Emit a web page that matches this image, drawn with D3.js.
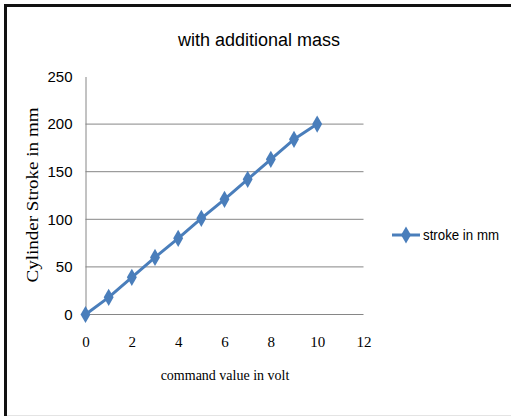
<!DOCTYPE html>
<html><head><meta charset="utf-8">
<script src="https://cdn.jsdelivr.net/npm/d3@7"></script>
<style>body{margin:0;background:#fff}svg{display:block}</style>
</head><body>
<svg id="c" width="511" height="416"></svg>
<script>
const voltage = [0,1,2,3,4,5,6,7,8,9,10];
const stroke = [0,18,39,60,80,101,121,142,163,184,200];
const xTicks = [0,2,4,6,8,10,12];
const yTicks = [0,50,100,150,200,250];
const gridTicks = [0,50,100,150,200];
const title = "with additional mass";
const xLabel = "command value in volt";
const yLabel = "Cylinder Stroke in mm";
const seriesName = "stroke in mm";

const svg = d3.select("#c");
const color = "#4a7ebb";
const narrow = "'Liberation Sans Narrow','Arial Narrow','Liberation Sans',sans-serif";
const serif = "'Liberation Serif','Times New Roman',serif";

// frame
svg.append("line").attr("x1",5.5).attr("y1",5.5).attr("x2",511).attr("y2",5.5).attr("stroke","#111").attr("stroke-width",3);
svg.append("line").attr("x1",5.5).attr("y1",4).attr("x2",5.5).attr("y2",416).attr("stroke","#111").attr("stroke-width",3);
svg.append("line").attr("x1",7).attr("y1",415.5).attr("x2",511).attr("y2",415.5).attr("stroke","#e4e4e4").attr("stroke-width",1);

const x = d3.scaleLinear().domain([0,12]).range([85.5,363.5]);
const y = d3.scaleLinear().domain([0,250]).range([314.5,76.5]);

// gridlines
svg.append("g").selectAll("line").data(gridTicks).join("line")
  .attr("x1",x(0)).attr("x2",x(12)).attr("y1",d=>y(d)).attr("y2",d=>y(d))
  .attr("stroke","#868686").attr("stroke-width",1);

// y axis
const ya = svg.append("g").attr("transform",`translate(${x(0)},0)`)
  .call(d3.axisLeft(y).tickValues(yTicks).tickSize(0).tickPadding(13));
ya.select(".domain").attr("stroke","#868686");
ya.selectAll("text").attr("font-family",narrow).attr("font-size",15).attr("fill","#000");

// x axis labels
const xa = svg.append("g").attr("transform",`translate(0,${y(0)})`)
  .call(d3.axisBottom(x).tickValues(xTicks).tickSize(0).tickPadding(22));
xa.select(".domain").remove();
xa.selectAll("text").attr("font-family",serif).attr("font-size",15).attr("fill","#000");

// line
const line = d3.line().x((d,i)=>x(voltage[i])).y(d=>y(d));
svg.append("path").datum(stroke).attr("d",line).attr("fill","none")
  .attr("stroke",color).attr("stroke-width",3).attr("stroke-linejoin","round");
const diamond = d3.symbol().type(d3.symbolDiamond).size(85);
svg.append("g").selectAll("path").data(stroke).join("path")
  .attr("d",diamond).attr("transform",(d,i)=>`translate(${x(voltage[i])},${y(d)})`)
  .attr("fill",color);

// title
svg.append("text").attr("x",259).attr("y",46).attr("text-anchor","middle")
  .attr("font-family",narrow).attr("font-size",18).attr("fill","#000")
  .attr("textLength",162).attr("lengthAdjust","spacingAndGlyphs").text(title);

// axis titles
svg.append("text").attr("x",225).attr("y",380).attr("text-anchor","middle")
  .attr("font-family",serif).attr("font-size",14).attr("fill","#000").text(xLabel);
svg.append("text").attr("transform","translate(38,195) rotate(-90)").attr("text-anchor","middle")
  .attr("font-family",serif).attr("font-size",17).attr("fill","#000")
  .attr("textLength",175).attr("lengthAdjust","spacingAndGlyphs").text(yLabel);

// legend
const lg = svg.append("g").attr("transform","translate(392,235)");
lg.append("line").attr("x1",0).attr("x2",28).attr("y1",0).attr("y2",0).attr("stroke",color).attr("stroke-width",3);
lg.append("path").attr("d",diamond).attr("transform","translate(14,0)").attr("fill",color);
lg.append("text").attr("x",31).attr("y",5).attr("font-family",narrow).attr("font-size",14).attr("fill","#000")
  .attr("textLength",76).attr("lengthAdjust","spacingAndGlyphs").text(seriesName);
</script>
</body></html>
